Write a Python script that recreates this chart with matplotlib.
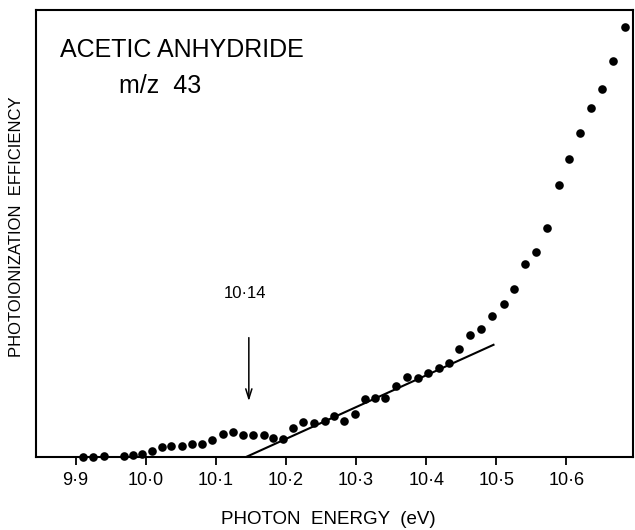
import matplotlib
matplotlib.use("Agg")
import matplotlib.pyplot as plt
from matplotlib import font_manager

# ---- data ----
energy_ev = [9.9108, 9.9251, 9.9404, 9.9689, 9.9822, 9.9946, 10.0089, 10.0231,
             10.0364, 10.0512, 10.0663, 10.0797, 10.0949, 10.1097, 10.1240, 10.1382,
             10.1534, 10.1682, 10.1815, 10.1953, 10.2104, 10.2247, 10.2404, 10.2552,
             10.2689, 10.2827, 10.2984, 10.3127, 10.3270, 10.3417, 10.3570, 10.3727,
             10.3884, 10.4030, 10.4178, 10.4330, 10.4472, 10.4629, 10.4786, 10.4939,
             10.5106, 10.5253, 10.5410, 10.5571, 10.5727, 10.5894, 10.6037, 10.6190,
             10.6347, 10.6503, 10.6669, 10.6836]
efficiency = [0.1, 0.1, 0.2, 0.2, 0.4, 0.7, 1.4, 2.2,
              2.5, 2.5, 2.8, 2.8, 3.7, 5.1, 5.5, 4.9,
              4.9, 4.9, 4.2, 4.0, 6.5, 7.8, 7.5, 8.1,
              9.1, 8.1, 9.6, 12.9, 13.1, 13.3, 15.9, 18.0,
              17.7, 18.9, 20.0, 21.1, 24.2, 27.4, 28.6, 31.6,
              34.3, 37.5, 43.2, 45.9, 51.2, 60.9, 66.7, 72.4,
              78.0, 82.3, 88.7, 96.3]

fit_line_x = [10.143, 10.496]
fit_line_y = [0.0, 25.1]

threshold_ev = 10.147
threshold_label = "10·14"

tick_values = [9.9, 10.0, 10.1, 10.2, 10.3, 10.4, 10.5, 10.6]
tick_labels = ["9·9", "10·0", "10·1", "10·2", "10·3", "10·4", "10·5", "10·6"]

title_line1 = "ACETIC ANHYDRIDE"
title_line2 = "m/z  43"
x_label = "PHOTON  ENERGY  (eV)"
y_label = "PHOTOIONIZATION  EFFICIENCY"

# ---- font ----
fam = "DejaVu Sans"
for cand in ["Liberation Sans Narrow", "Liberation Sans"]:
    try:
        font_manager.findfont(cand, fallback_to_default=False)
        fam = cand
        break
    except Exception:
        pass
plt.rcParams["font.family"] = [fam, "DejaVu Sans"]

W, H = 635, 530
fig = plt.figure(figsize=(W / 100, H / 100), dpi=100)
ax = fig.add_axes([36 / W, 1 - 457 / H, (633 - 36) / W, (457 - 10) / H])

ax.plot(energy_ev, efficiency, "o", color="black", markersize=6.2,
        markeredgewidth=0, clip_on=False)
ax.plot(fit_line_x, fit_line_y, "-", color="black", linewidth=1.5)

ax.annotate("", xy=(threshold_ev, 12.5), xytext=(threshold_ev, 26.7),
            arrowprops=dict(arrowstyle="->,head_length=0.7,head_width=0.22",
                            color="black", lw=1.1, shrinkA=0, shrinkB=0))
ax.text(threshold_ev - 0.005, 36.5, threshold_label, ha="center", va="center",
        fontsize=12)

ax.set_xlim(9.8434, 10.695)
ax.set_ylim(0, 100)
ax.set_xticks(tick_values)
ax.set_xticklabels(tick_labels, fontsize=13)
ax.set_yticks([])
ax.tick_params(axis="x", direction="out", length=6, width=1.3, pad=5)
for s in ax.spines.values():
    s.set_linewidth(1.5)

fig.text(60 / W, 1 - 50 / H, title_line1, ha="left", va="center", fontsize=18)
fig.text(119 / W, 1 - 86 / H, title_line2, ha="left", va="center", fontsize=18)
fig.text(328 / W, 1 - 520 / H, x_label, ha="center", va="center", fontsize=13.5)
fig.text(17 / W, 1 - 227 / H, y_label, ha="center", va="center", fontsize=12,
         rotation=90)

fig.savefig("out.png", dpi=100)
